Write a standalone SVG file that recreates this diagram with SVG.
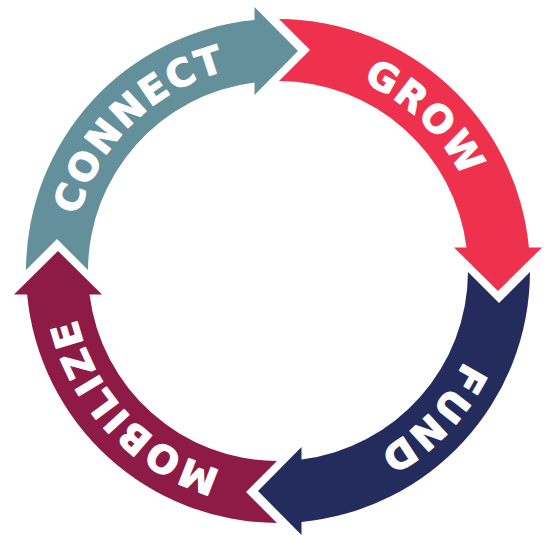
<svg xmlns="http://www.w3.org/2000/svg" width="550" height="537" viewBox="0 0 550 537">
  <style>
    .lbl { font-family: "DejaVu Sans", "Liberation Sans", sans-serif; font-weight: bold; font-size: 38px; fill: #FFFFFF; stroke: #FFFFFF; stroke-width: 1.2px; stroke-linejoin: round; text-anchor: middle; letter-spacing: 2px; }
  </style>
  <defs>
    <path id="seg" d="M 26 270 A 252 252 0 0 1 254.5 20.1 L 254.5 7 L 298 51 L 254.5 95 L 254.5 82.5 A 190 190 0 0 0 88 270 L 57 239 Z"/>
    <path id="ring" fill="none" d="M 278 64 A 207 207 0 1 1 278 478 A 207 207 0 1 1 278 64"/>
  </defs>
  <rect width="550" height="537" fill="#FFFFFF"/>
  <g id="connect">
    <use href="#seg" fill="#64909B"/>
    <text class="lbl"><textPath href="#ring" startOffset="1139.8">CONNECT</textPath></text>
  </g>
  <g id="grow">
    <use href="#seg" fill="#EE324D" transform="rotate(90 278 271)"/>
    <text class="lbl"><textPath href="#ring" startOffset="158.2">GROW</textPath></text>
  </g>
  <g id="fund">
    <use href="#seg" fill="#242C5E" transform="rotate(180 278 271)"/>
    <text class="lbl"><textPath href="#ring" startOffset="482.3">FUND</textPath></text>
  </g>
  <g id="mobilize">
    <use href="#seg" fill="#8E1A46" transform="rotate(270 278 271)"/>
    <text class="lbl"><textPath href="#ring" startOffset="818.3">MOBILIZE</textPath></text>
  </g>
</svg>
